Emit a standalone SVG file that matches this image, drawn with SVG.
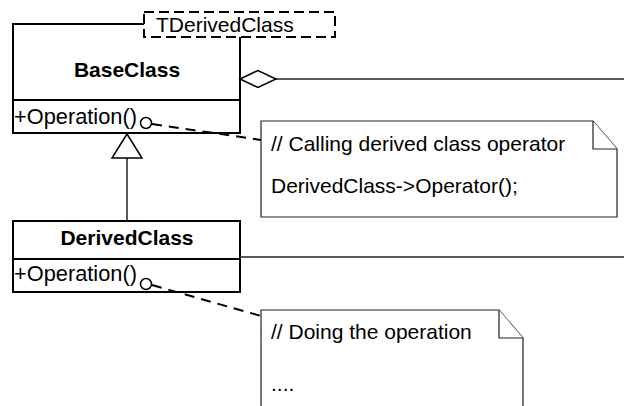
<svg xmlns="http://www.w3.org/2000/svg" width="624" height="406" viewBox="0 0 624 406">
<style>
text{font-family:"Liberation Sans",Arial,sans-serif;font-size:21px;fill:#000}
.b{font-weight:bold}
.op{font-size:21.8px}
.box{fill:#fff;stroke:#000;stroke-width:2}
.note{fill:#fff;stroke:#222;stroke-width:1.2}
.line{fill:none;stroke:#222;stroke-width:1.5}
.dash{fill:none;stroke:#000;stroke-width:2;stroke-dasharray:10,7}
</style>
<rect width="624" height="406" fill="#fff"/>
<g id="BaseClass">
<rect class="box" x="13" y="24" width="227" height="109"/>
<line x1="13" y1="100" x2="240" y2="100" stroke="#000" stroke-width="2"/>
<text class="b" x="127" y="77" text-anchor="middle">BaseClass</text>
<text class="op" x="14" y="124">+Operation()</text>
</g>
<g id="TDerivedClass">
<rect x="144" y="12" width="191" height="25" fill="#fff" stroke="#000" stroke-width="2" stroke-dasharray="10,5"/>
<text x="156" y="32">TDerivedClass</text>
</g>
<g id="DerivedClass">
<rect class="box" x="13" y="221" width="227" height="71"/>
<line x1="13" y1="259" x2="240" y2="259" stroke="#000" stroke-width="2"/>
<text class="b" x="127" y="245" text-anchor="middle">DerivedClass</text>
<text class="op" x="14" y="281">+Operation()</text>
</g>
<g id="note1">
<path class="note" d="M261,121 H593 L617,149 V217 H261 Z"/>
<path class="note" d="M593,121 V149 H617" fill="none"/>
<text x="271" y="151">// Calling derived class operator</text>
<text x="271" y="193">DerivedClass-&gt;Operator();</text>
</g>
<g id="note2">
<path class="note" d="M261,310 H499 L523,338 V420 H261 Z"/>
<path class="note" d="M499,310 V338 H523" fill="none"/>
<text x="271" y="339">// Doing the operation</text>
<text x="271" y="391">....</text>
</g>
<g id="connectors">
<line class="line" x1="276" y1="79" x2="624" y2="79"/>
<polygon points="240,79 258,70.5 276,79 258,87.5" fill="#fff" stroke="#000" stroke-width="1.5"/>
<line class="line" x1="240" y1="257" x2="624" y2="257"/>
<line class="line" x1="127" y1="158" x2="127" y2="221"/>
<polygon points="127,134 112,158 142,158" fill="#fff" stroke="#000" stroke-width="1.5"/>
<line class="dash" x1="152" y1="124" x2="261" y2="140"/>
<circle cx="146" cy="123" r="5.5" fill="#fff" stroke="#000" stroke-width="1.5"/>
<line class="dash" x1="152" y1="285" x2="261" y2="316"/>
<circle cx="146" cy="284" r="5.5" fill="#fff" stroke="#000" stroke-width="1.5"/>
</g>
</svg>
